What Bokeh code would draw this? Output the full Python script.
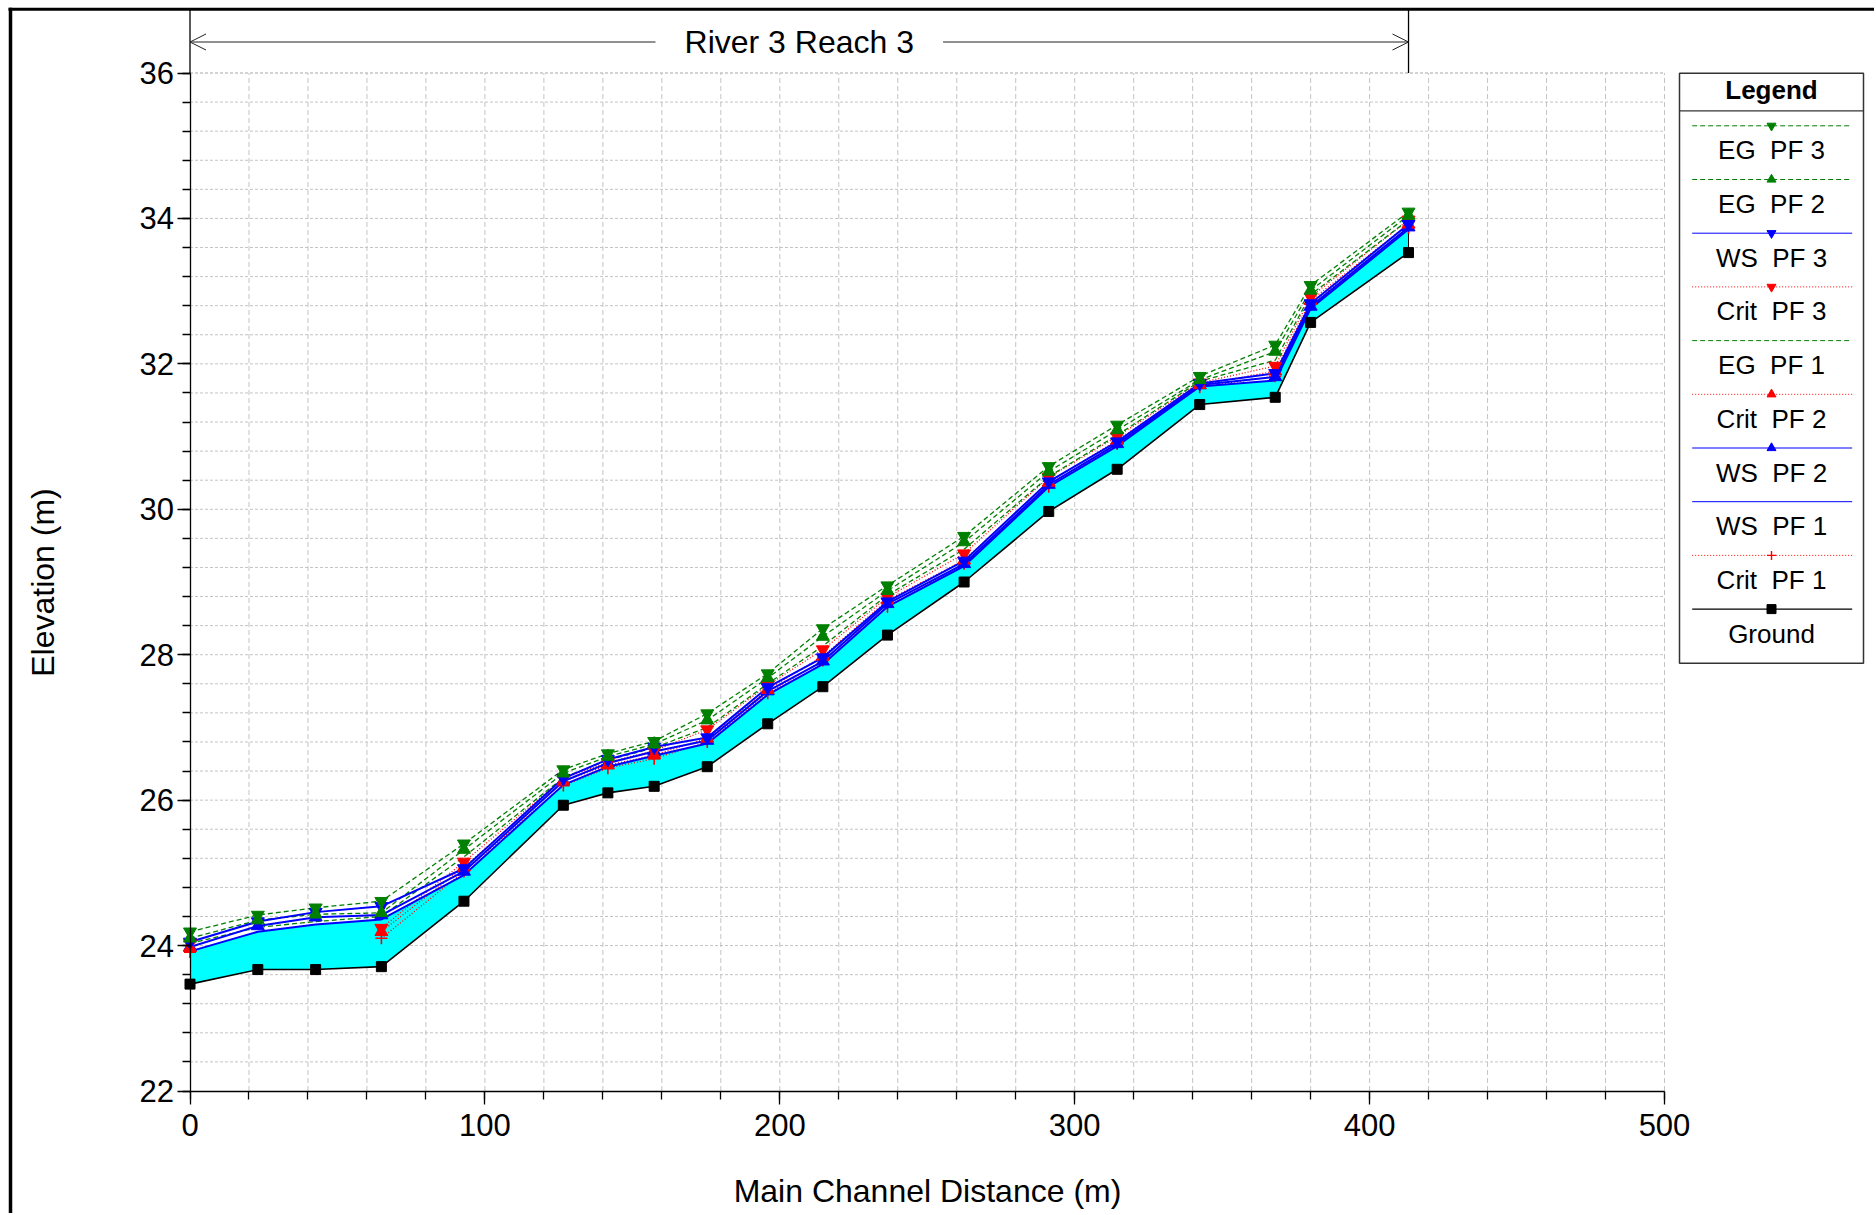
import numpy as np
from bokeh.plotting import figure
from bokeh.models import Range1d, FixedTicker, Arrow, OpenHead
from bokeh.core.properties import value
from bokeh.embed import file_html
from bokeh.resources import INLINE

nan = np.nan

# ---------------- data ----------------
station = np.array([0.0, 23.0, 42.6, 64.9, 92.9, 126.6, 141.7, 157.4, 175.4, 195.9,
                    214.6, 236.5, 262.5, 291.2, 314.4, 342.4, 368.0, 380.0, 413.2])
ground = np.array([23.47, 23.67, 23.67, 23.71, 24.61, 25.93, 26.10, 26.19, 26.46, 27.05,
                   27.56, 28.27, 29.00, 29.97, 30.55, 31.44, 31.54, 32.57, 33.53])
ws_pf1 = np.array([23.92, 24.19, 24.29, 24.36, 24.97, 26.21, 26.46, 26.61, 26.78, 27.45,
                   27.87, 28.66, 29.22, 30.31, 30.87, 31.69, 31.77, 32.76, 33.85])
ws_pf2 = np.array([23.98, 24.27, 24.39, 24.42, 25.02, 26.26, 26.51, 26.67, 26.82, 27.50,
                   27.91, 28.70, 29.25, 30.34, 30.90, 31.71, 31.82, 32.79, 33.88])
ws_pf3 = np.array([24.05, 24.33, 24.46, 24.54, 25.06, 26.30, 26.56, 26.73, 26.86, 27.55,
                   27.96, 28.73, 29.29, 30.38, 30.93, 31.73, 31.87, 32.83, 33.92])
eg_pf1 = np.array([24.03, 24.25, 24.33, 24.40, 25.22, 26.31, 26.55, 26.72, 27.00, 27.60,
                   28.12, 28.82, 29.45, 30.45, 31.02, 31.76, 32.05, 32.95, 33.98])
eg_pf2 = np.array([24.10, 24.35, 24.43, 24.45, 25.32, 26.37, 26.60, 26.77, 27.10, 27.68,
                   28.25, 28.88, 29.55, 30.52, 31.09, 31.78, 32.17, 33.01, 34.04])
eg_pf3 = np.array([24.19, 24.42, 24.52, 24.61, 25.40, 26.42, 26.64, 26.81, 27.19, 27.74,
                   28.36, 28.95, 29.63, 30.59, 31.16, 31.83, 32.26, 33.08, 34.09])
crit_pf1 = np.array([23.91, nan, nan, 24.10, 25.02, 26.20, 26.44, 26.57, 26.80, 27.47,
                     27.92, 28.66, 29.25, 30.31, 30.90, 31.68, 31.83, 32.82, 33.87])
crit_pf2 = np.array([23.97, nan, nan, 24.19, 25.08, 26.26, 26.48, 26.62, 26.85, 27.52,
                     27.98, 28.75, 29.30, 30.37, 30.95, 31.71, 31.90, 32.87, 33.92])
crit_pf3 = np.array([24.03, nan, nan, 24.24, 25.15, 26.30, 26.52, 26.68, 26.97, 27.58,
                     28.07, 28.79, 29.39, 30.44, 31.00, 31.74, 31.97, 32.92, 33.98])

x_major = [0, 100, 200, 300, 400, 500]
x_minor = list(range(0, 501, 20))
y_major = [22, 24, 26, 28, 30, 32, 34, 36]
y_minor = [round(22 + 0.4 * k, 1) for k in range(36)]

reach_label = "River 3 Reach 3"
x_title = "Main Channel Distance (m)"
y_title = "Elevation (m)"

# ---------------- layout (canvas pixels) ----------------
W, H = 1874, 1213
X0_PX, X500_PX = 189.5, 1664.0
Y36_PX, Y22_PX = 72.5, 1090.5
kx = (X500_PX - X0_PX) / (x_major[-1] - x_major[0])
ky = (Y22_PX - Y36_PX) / (y_major[-1] - y_major[0])
x_start = x_major[0] - X0_PX / kx
x_end = x_start + W / kx
y_end = y_major[-1] + Y36_PX / ky
y_start = y_end - H / ky


def dx(px):
    return x_start + px / kx


def dy(py):
    return y_end - py / ky


FONT = "Liberation Sans"
GREEN, BLUE, RED, BLACK = "#008000", "#0000ff", "#ff0000", "#000000"

p = figure(width=W, height=H, x_range=Range1d(x_start, x_end), y_range=Range1d(y_start, y_end),
           output_backend="svg", toolbar_location=None,
           min_border=0, min_border_left=0, min_border_right=0, min_border_top=0, min_border_bottom=0)
p.xgrid.visible = False
p.ygrid.visible = False
p.outline_line_color = None
p.background_fill_color = "white"
p.border_fill_color = "white"

# axes
p.xaxis.fixed_location = y_major[0]
p.xaxis.bounds = (x_major[0], x_major[-1])
p.xaxis.ticker = FixedTicker(ticks=x_major, minor_ticks=x_minor)
p.yaxis.fixed_location = x_major[0]
p.yaxis.bounds = (y_major[0], y_major[-1])
p.yaxis.ticker = FixedTicker(ticks=y_major, minor_ticks=y_minor)
for ax in (p.xaxis, p.yaxis):
    ax.axis_line_color = BLACK
    ax.axis_line_width = 1.3
    ax.major_tick_in = 0
    ax.major_tick_out = 13
    ax.minor_tick_in = 0
    ax.minor_tick_out = 8
    ax.major_tick_line_color = BLACK
    ax.minor_tick_line_color = BLACK
    ax.major_tick_line_width = 1.3
    ax.minor_tick_line_width = 1.3
    ax.major_label_text_font = FONT
    ax.major_label_text_font_size = "31px"
    ax.major_label_text_color = BLACK
    ax.axis_label_text_font = FONT
    ax.axis_label_text_font_size = "32px"
    ax.axis_label_text_font_style = "normal"
    ax.axis_label_text_color = BLACK
p.xaxis.axis_label = x_title
p.yaxis.axis_label = y_title
p.xaxis.major_label_standoff = 10
p.xaxis.axis_label_standoff = 33
p.yaxis.major_label_standoff = 3
p.yaxis.axis_label_standoff = 76

# grid (from the tick lists)
gy = [v for v in y_minor if v > y_major[0]] + [y_major[-1]]
p.segment(x0=[x_major[0]] * len(gy), y0=gy, x1=[x_major[-1]] * len(gy), y1=gy,
          line_color="#c4c4c4", line_width=1, line_dash="3 2")
gx = [v for v in x_minor if v > x_major[0]]
p.segment(x0=gx, y0=[y_major[0]] * len(gx), x1=gx, y1=[y_major[-1]] * len(gx),
          line_color="#c4c4c4", line_width=1, line_dash="5 3")

# water fill between ground and WS PF 1
p.varea(x=station, y1=ground, y2=ws_pf1, fill_color="#00ffff")
p.segment(x0=[station[-1]], y0=[ground[-1]], x1=[station[-1]], y1=[ws_pf1[-1]],
          line_color=BLACK, line_width=1)

# series: (label, values, color, dash, marker, width)
series = [
    ("EG \u00a0PF 3", eg_pf3, GREEN, "5 3", "inverted_triangle", 1.3),
    ("EG \u00a0PF 2", eg_pf2, GREEN, "5 3", "triangle", 1.3),
    ("WS \u00a0PF 3", ws_pf3, BLUE, "solid", "inverted_triangle", 2.0),
    ("Crit \u00a0PF 3", crit_pf3, RED, "1 2", "inverted_triangle", 1.3),
    ("EG \u00a0PF 1", eg_pf1, GREEN, "5 3", None, 1.3),
    ("Crit \u00a0PF 2", crit_pf2, RED, "1 2", "triangle", 1.3),
    ("WS \u00a0PF 2", ws_pf2, BLUE, "solid", "triangle", 2.0),
    ("WS \u00a0PF 1", ws_pf1, BLUE, "solid", None, 2.0),
    ("Crit \u00a0PF 1", crit_pf1, RED, "1 2", "cross", 1.3),
    ("Ground", ground, BLACK, "solid", "square", 1.6),
]

# lines: ground, then crit, then EG, then WS on top
draw_order = {BLACK: 0, RED: 1, GREEN: 2, BLUE: 3}
for label, vals, col, dash, mk, lw in sorted(series, key=lambda s: draw_order[s[2]]):
    p.line(station, vals, line_color=col, line_dash=dash, line_width=lw)
for label, vals, col, dash, mk, lw in reversed(series):
    if mk is None:
        continue
    if mk == "cross":
        p.scatter(station, vals, marker="cross", size=12, line_color=col, line_width=1.6)
    else:
        sz = 10 if mk == "square" else 13
        p.scatter(station, vals, marker=mk, size=sz, fill_color=col, line_color=col)

# outer frame lines (top and left)
p.segment(x0=[dx(8.0)], y0=[dy(8.7)], x1=[x_end], y1=[dy(8.7)], line_color=BLACK, line_width=3)
p.segment(x0=[dx(10.0)], y0=[dy(7.2)], x1=[dx(10.0)], y1=[y_start], line_color=BLACK, line_width=3.5)

# reach annotation above the plot
y_ann = dy(41.5)
mid = (station[0] + station[-1]) / 2
gap = 143.8 / kx
for xe, xs in ((station[0], mid - gap), (station[-1], mid + gap)):
    p.add_layout(Arrow(end=OpenHead(size=16, line_width=1, line_color="#222222"),
                       x_start=xs, y_start=y_ann, x_end=xe, y_end=y_ann,
                       line_color="#222222", line_width=1.2))
p.text(x=[mid], y=[y_ann], text=[reach_label], text_font=value(FONT), text_font_size="32px",
       text_align="center", text_baseline="middle", text_color=BLACK)
p.segment(x0=[station[-1]], y0=[y_major[-1]], x1=[station[-1]], y1=[dy(8.7)],
          line_color=BLACK, line_width=1.3)
p.segment(x0=[x_major[0]], y0=[y_major[-1]], x1=[x_major[0]], y1=[dy(8.7)],
          line_color=BLACK, line_width=1.3)

# legend box drawn to the right of the plot
LX0, LX1, LY0, LY1 = 1679.0, 1863.0, 72.7, 662.8
LCX = (LX0 + LX1) / 2
p.quad(left=[dx(LX0)], right=[dx(LX1)], top=[dy(LY0)], bottom=[dy(LY1)],
       fill_color="white", line_color="#333333", line_width=1.5)
p.segment(x0=[dx(LX0)], y0=[dy(110.3)], x1=[dx(LX1)], y1=[dy(110.3)],
          line_color="#333333", line_width=1.3)
p.text(x=[dx(LCX)], y=[dy(89.0)], text=["Legend"], text_font=value(FONT), text_font_size="26px",
       text_font_style="bold", text_align="center", text_baseline="middle", text_color=BLACK)
for i, (label, vals, col, dash, mk, lw) in enumerate(series):
    ly = dy(125.3 + 53.7 * i)
    p.line([dx(1691.7), dx(1851.7)], [ly, ly], line_color=col, line_dash=dash,
           line_width=1.0 if col != BLACK else 1.3)
    if mk is not None:
        if mk == "cross":
            p.scatter([dx(LCX)], [ly], marker="cross", size=9, line_color=col, line_width=1.4)
        else:
            p.scatter([dx(LCX)], [ly], marker=mk, size=9, fill_color=col, line_color=col)
    p.text(x=[dx(LCX)], y=[dy(125.3 + 53.7 * i + 24.5)], text=[label], text_font=value(FONT),
           text_font_size="26px", text_align="center", text_baseline="middle", text_color=BLACK)

open("out.html", "w").write(file_html(p, INLINE))
